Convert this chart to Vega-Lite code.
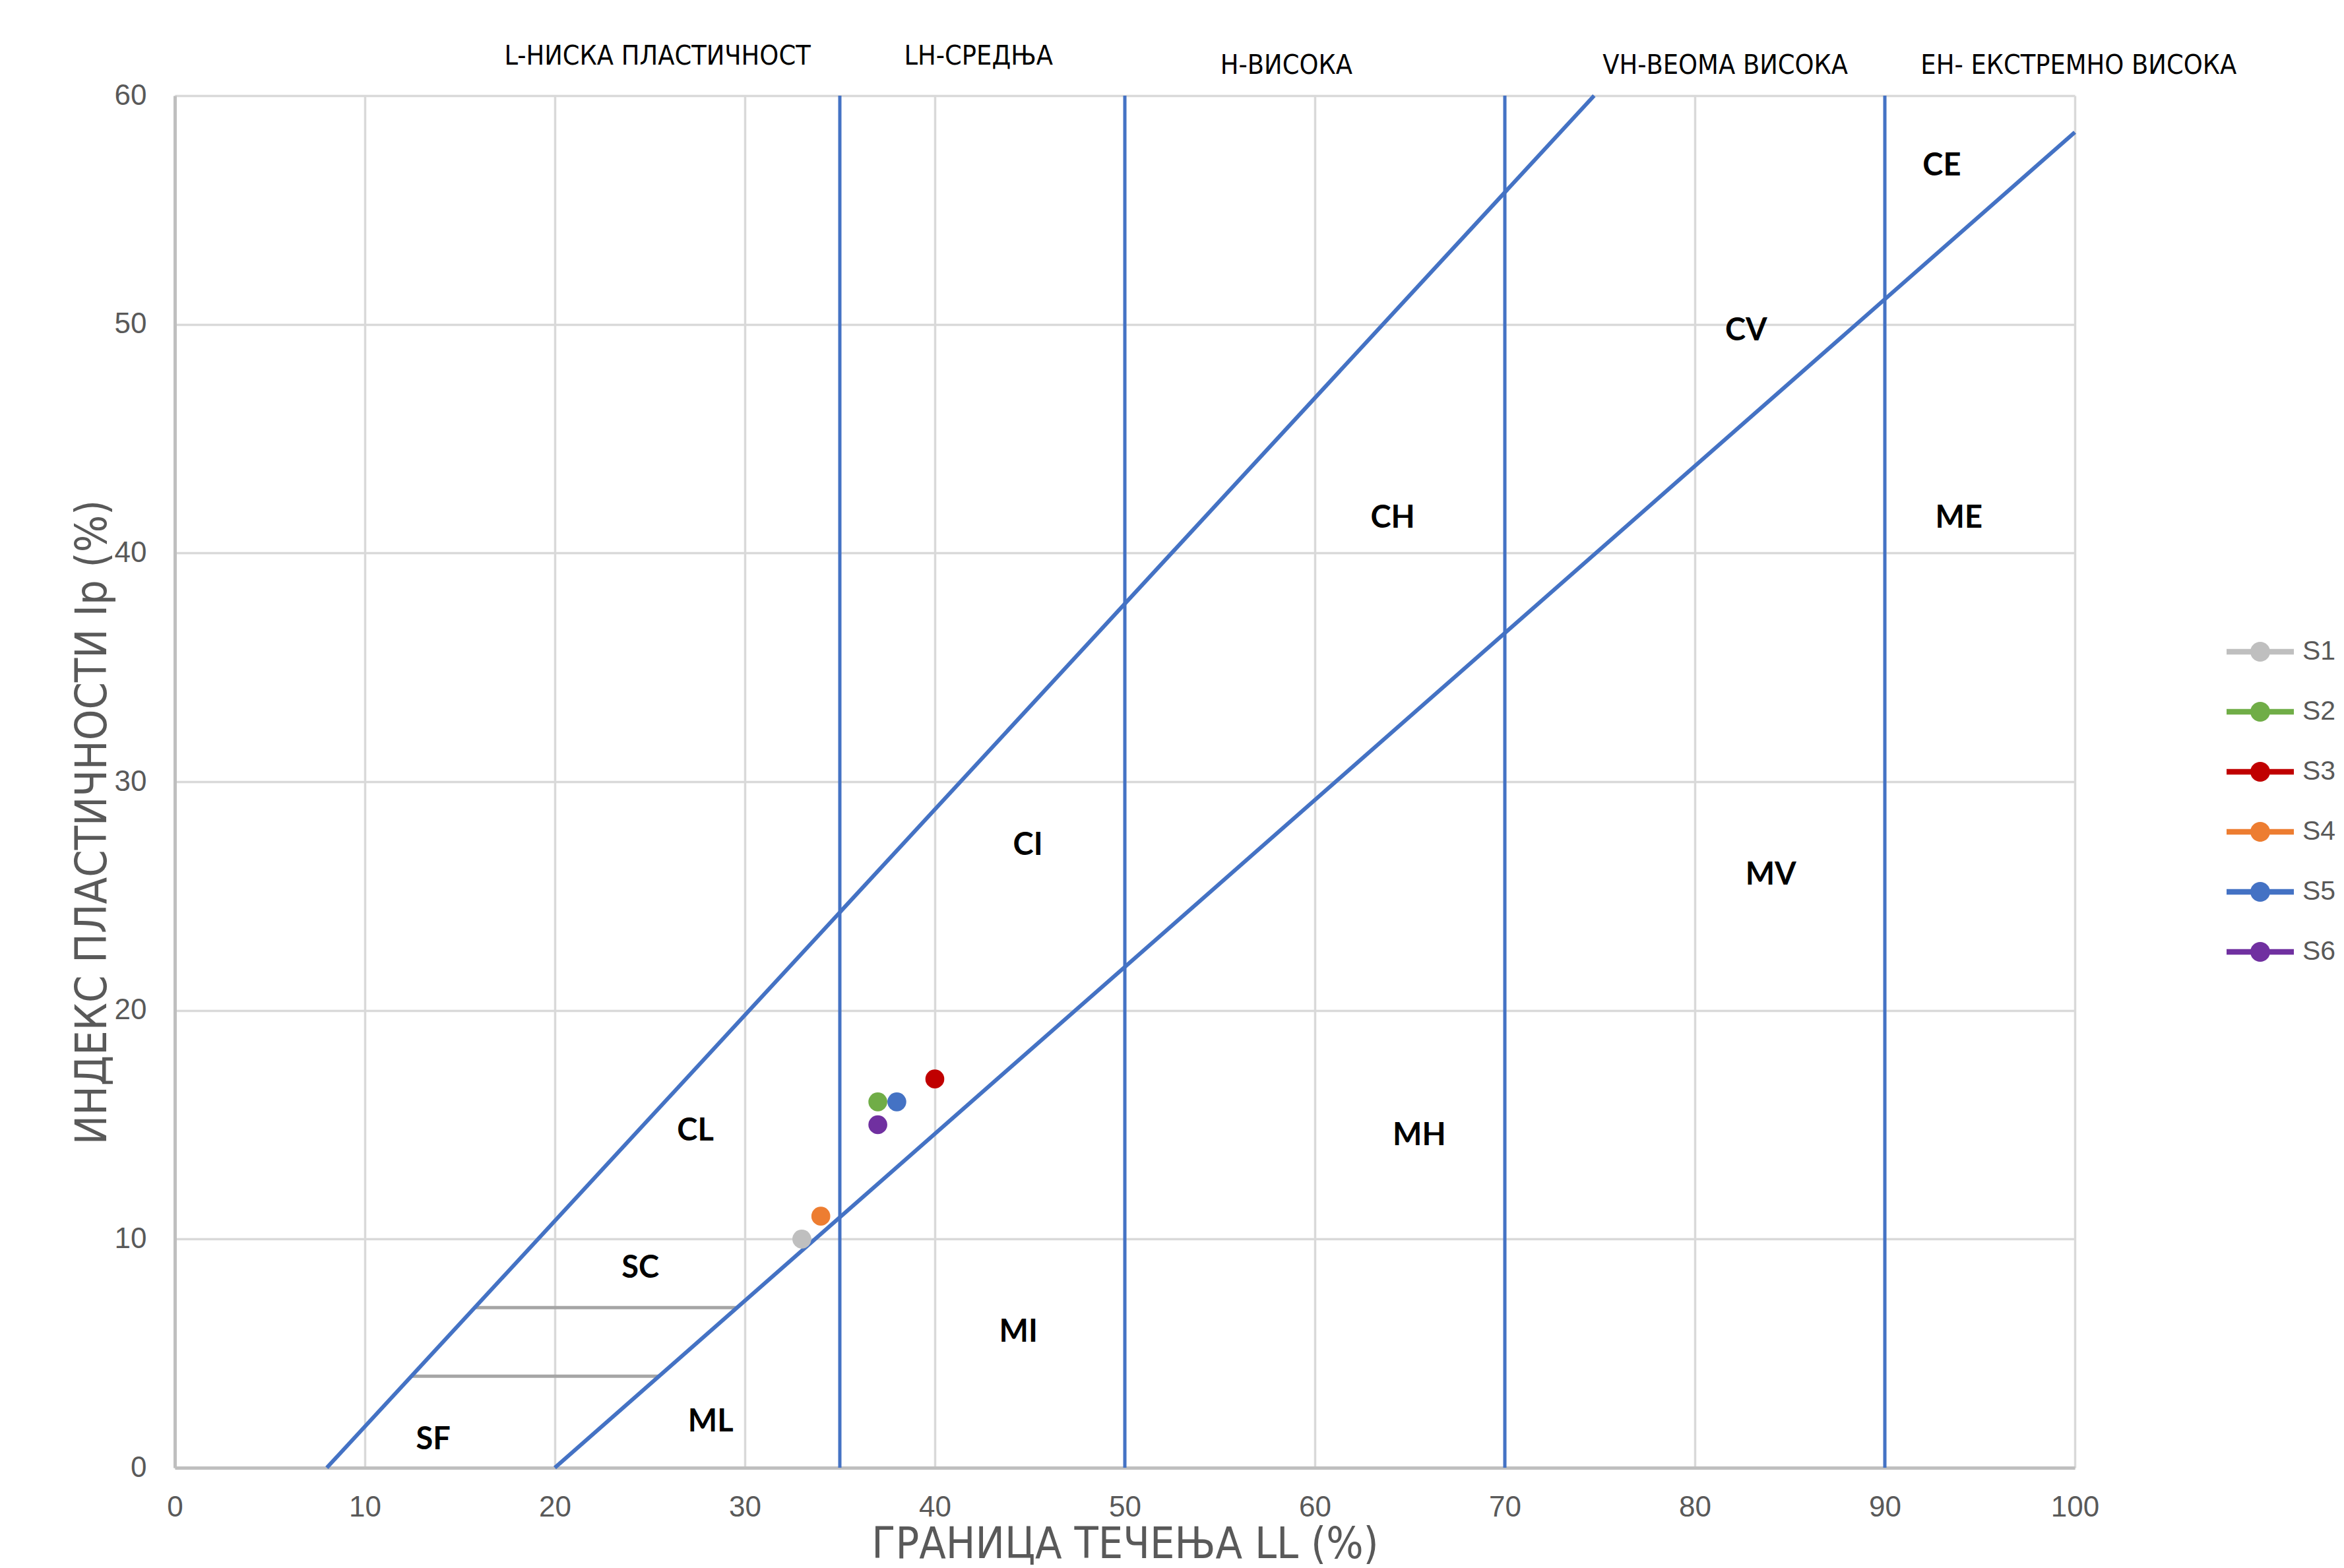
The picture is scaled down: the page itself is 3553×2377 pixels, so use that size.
{
  "$schema": "https://vega.github.io/schema/vega-lite/v6.json",
  "width": 2880,
  "height": 2080,
  "autosize": {"type": "none"},
  "padding": {"left": 265, "top": 145, "right": 408, "bottom": 152},
  "background": "white",
  "config": {
    "view": {"stroke": null},
    "font": "Liberation Sans",
    "axis": {
      "domainColor": "#BFBFBF",
      "domainWidth": 5,
      "gridColor": "#D9D9D9",
      "gridWidth": 3.5,
      "ticks": false,
      "labelColor": "#595959",
      "labelFontSize": 44,
      "labelFont": "Liberation Sans",
      "labelFlush": false,
      "titleColor": "#595959",
      "titleFont": "Liberation Sans Narrow, DejaVu Sans Condensed, Liberation Sans",
      "titleFontWeight": "normal",
      "titleFontSize": 66
    }
  },
  "datasets": {
    "lines": [
      {"g": "U-line", "kind": "diag", "LL": 8, "Ip": 0},
      {"g": "U-line", "kind": "diag", "LL": 74.7, "Ip": 60},
      {"g": "A-line", "kind": "diag", "LL": 20, "Ip": 0},
      {"g": "A-line", "kind": "diag", "LL": 100, "Ip": 58.4},
      {"g": "LL35", "kind": "vert", "LL": 35, "Ip": 0},
      {"g": "LL35", "kind": "vert", "LL": 35, "Ip": 60},
      {"g": "LL50", "kind": "vert", "LL": 50, "Ip": 0},
      {"g": "LL50", "kind": "vert", "LL": 50, "Ip": 60},
      {"g": "LL70", "kind": "vert", "LL": 70, "Ip": 0},
      {"g": "LL70", "kind": "vert", "LL": 70, "Ip": 60},
      {"g": "LL90", "kind": "vert", "LL": 90, "Ip": 0},
      {"g": "LL90", "kind": "vert", "LL": 90, "Ip": 60}
    ],
    "grays": [
      {"g": "Ip7", "LL": 15.8, "Ip": 7},
      {"g": "Ip7", "LL": 29.6, "Ip": 7},
      {"g": "Ip4", "LL": 12.4, "Ip": 4},
      {"g": "Ip4", "LL": 25.5, "Ip": 4}
    ],
    "samples": [
      {"sample": "S1", "LL": 33, "Ip": 10},
      {"sample": "S2", "LL": 37, "Ip": 16},
      {"sample": "S3", "LL": 40, "Ip": 17},
      {"sample": "S4", "LL": 34, "Ip": 11},
      {"sample": "S5", "LL": 38, "Ip": 16},
      {"sample": "S6", "LL": 37, "Ip": 15}
    ],
    "zones": [
      {"name": "CE", "LL": 93.0, "Ip": 56.9},
      {"name": "CV", "LL": 82.7, "Ip": 49.7},
      {"name": "CH", "LL": 64.1, "Ip": 41.5},
      {"name": "ME", "LL": 93.9, "Ip": 41.5},
      {"name": "CI", "LL": 44.9, "Ip": 27.2},
      {"name": "MV", "LL": 84.0, "Ip": 25.9},
      {"name": "CL", "LL": 27.4, "Ip": 14.7},
      {"name": "MH", "LL": 65.5, "Ip": 14.5},
      {"name": "SC", "LL": 24.5, "Ip": 8.7},
      {"name": "MI", "LL": 44.4, "Ip": 5.9},
      {"name": "ML", "LL": 28.2, "Ip": 2.0},
      {"name": "SF", "LL": 13.6, "Ip": 1.2}
    ],
    "bands": [
      {"name": "L-НИСКА ПЛАСТИЧНОСТ", "LL": 25.4, "Ip": 61.7},
      {"name": "LH-СРЕДЊА", "LL": 42.3, "Ip": 61.7},
      {"name": "H-ВИСОКА", "LL": 58.5, "Ip": 61.3},
      {"name": "VH-ВЕОМА ВИСОКА", "LL": 81.6, "Ip": 61.3},
      {"name": "EH- ЕКСТРЕМНО ВИСОКА", "LL": 100.2, "Ip": 61.3}
    ]
  },
  "encoding": {
    "x": {
      "field": "LL",
      "type": "quantitative",
      "scale": {"domain": [0, 100], "nice": false, "zero": false},
      "axis": {
        "title": "ГРАНИЦА ТЕЧЕЊА LL (%)",
        "values": [0, 10, 20, 30, 40, 50, 60, 70, 80, 90, 100],
        "labelPadding": 38,
        "titlePadding": 2,
        "titleBaseline": "top"
      }
    },
    "y": {
      "field": "Ip",
      "type": "quantitative",
      "scale": {"domain": [0, 60], "nice": false, "zero": false},
      "axis": {
        "title": "ИНДЕКС ПЛАСТИЧНОСТИ Ip (%)",
        "values": [0, 10, 20, 30, 40, 50, 60],
        "labelPadding": 43,
        "titleX": -125,
        "titleY": 1101,
        "titleAngle": 270,
        "titleAlign": "center",
        "titleBaseline": "middle"
      }
    }
  },
  "layer": [
    {
      "data": {"name": "grays"},
      "mark": {"type": "line", "color": "#A5A5A5", "strokeWidth": 5},
      "encoding": {"detail": {"field": "g"}}
    },
    {
      "data": {"name": "lines"},
      "transform": [{"filter": "datum.kind == 'diag'"}],
      "mark": {"type": "line", "color": "#4472C4", "strokeWidth": 6},
      "encoding": {"detail": {"field": "g"}}
    },
    {
      "data": {"name": "lines"},
      "transform": [{"filter": "datum.kind == 'vert'"}],
      "mark": {"type": "line", "color": "#4472C4", "strokeWidth": 5},
      "encoding": {"detail": {"field": "g"}}
    },
    {
      "data": {"name": "zones"},
      "mark": {"type": "text", "font": "Lato", "fontWeight": "bold", "fontSize": 47, "color": "#000000", "align": "center", "baseline": "middle"},
      "encoding": {"text": {"field": "name"}}
    },
    {
      "data": {"name": "bands"},
      "mark": {"type": "text", "font": "Liberation Sans Narrow, DejaVu Sans Condensed, Liberation Sans", "fontSize": 41, "color": "#000000", "align": "center", "baseline": "middle"},
      "encoding": {"text": {"field": "name"}}
    },
    {
      "data": {"name": "samples"},
      "mark": {"type": "point", "filled": true, "opacity": 1, "size": 820, "shape": "circle"},
      "encoding": {
        "color": {
          "field": "sample",
          "type": "nominal",
          "scale": {
            "domain": ["S1", "S2", "S3", "S4", "S5", "S6"],
            "range": ["#BFBFBF", "#70AD47", "#C00000", "#ED7D31", "#4472C4", "#7030A0"]
          },
          "legend": {
            "title": null,
            "orient": "none",
            "legendX": 3131,
            "legendY": 813,
            "padding": 0,
            "symbolType": "M-1.7,-0.14L1.7,-0.14L1.7,0.14L-1.7,0.14Z M-0.5,0A0.5,0.5 0 1,1 0.5,0A0.5,0.5 0 1,1 -0.5,0Z",
            "symbolSize": 3600,
            "symbolOpacity": 1,
            "symbolStrokeWidth": 0,
            "labelFontSize": 41,
            "labelColor": "#595959",
            "labelFont": "Liberation Sans",
            "labelOffset": 34,
            "rowPadding": 41
          }
        }
      }
    }
  ]
}
